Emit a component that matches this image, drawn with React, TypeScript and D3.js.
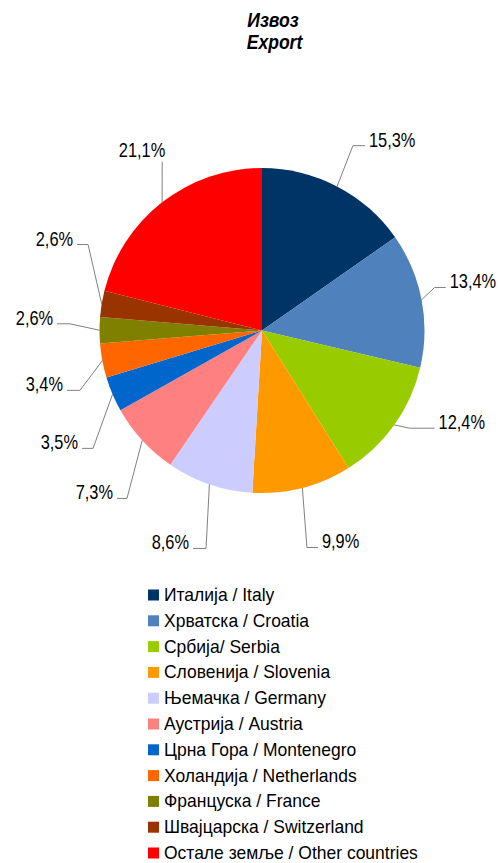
import React from "react";
import * as d3 from "d3";

const categories = [
  "Италија / Italy",
  "Хрватска / Croatia",
  "Србија/ Serbia",
  "Словенија / Slovenia",
  "Њемачка / Germany",
  "Аустрија / Austria",
  "Црна Гора / Montenegro",
  "Холандија / Netherlands",
  "Француска / France",
  "Швајцарска / Switzerland",
  "Остале земље / Other countries",
];
const values = [15.3, 13.4, 12.4, 9.9, 8.6, 7.3, 3.5, 3.4, 2.6, 2.6, 21.1];
const valueLabels = ["15,3%", "13,4%", "12,4%", "9,9%", "8,6%", "7,3%", "3,5%", "3,4%", "2,6%", "2,6%", "21,1%"];
const colors = [
  "#003366", "#4F81BD", "#99CC00", "#FF9900", "#CCCCFF", "#FF8080",
  "#0066CC", "#FF6600", "#808000", "#993300", "#FF0000",
];
// label layout: elbow position in polar coords (degrees clockwise from top, radius px)
const labelAngles = [26.2, 76, 123.5, 168.3, 194.4, 218.8, 235.1, 251.8, 272, 296.3, 329.4];
const labelRadii = [206, 178, 177, 221.6, 225, 215.5, 206, 191.6, 192, 194, 196];
const labelHoriz = [12, 11, 25, 11, 13, 10, 11, 13, 13, 11, 0];

const W = 501;
const H = 863;
const cx = 262;
const cy = 330.5;
const R = 162.5;
const FONT = "'Liberation Sans', Arial, sans-serif";

function T(props: {
  x: number;
  y: number;
  sx: number;
  size: number;
  anchor?: string;
  bold?: boolean;
  italic?: boolean;
  children: React.ReactNode;
}) {
  return (
    <text
      transform={`translate(${props.x},${props.y}) scale(${props.sx},1)`}
      textAnchor={props.anchor || "start"}
      fontFamily={FONT}
      fontSize={props.size}
      fontWeight={props.bold ? "bold" : "normal"}
      fontStyle={props.italic ? "italic" : "normal"}
      fill="#000"
    >
      {props.children}
    </text>
  );
}

export default function App() {
  const pie = d3.pie<number>().sort(null).value((d) => d);
  const arcs = pie(values);
  const arc = d3.arc<d3.PieArcDatum<number>>().innerRadius(0).outerRadius(R);
  const polar = (a: number, r: number): [number, number] => [
    cx + r * Math.sin(a),
    cy - r * Math.cos(a),
  ];
  const legendY = d3.scaleLinear().domain([0, categories.length - 1]).range([601, 859]);

  return (
    <div style={{ position: "fixed", left: 0, top: 0 }}>
      <svg width={W} height={H} style={{ display: "block", background: "#fff" }}>
        <T x={273} y={27} sx={0.9} size={19.5} anchor="middle" bold italic>
          Извоз
        </T>
        <T x={274.5} y={49} sx={0.9} size={19.5} anchor="middle" bold italic>
          Export
        </T>
        <g transform={`translate(${cx},${cy})`}>
          {arcs.map((a, i) => (
            <path key={i} d={arc(a) || ""} fill={colors[i]} />
          ))}
        </g>
        {arcs.map((a, i) => {
          const mid = (a.startAngle + a.endAngle) / 2;
          const [sx, sy] = polar(mid, R);
          const [ex, ey] = polar((labelAngles[i] * Math.PI) / 180, labelRadii[i]);
          const right = ex > cx;
          const h = labelHoriz[i];
          const hx = right ? ex + h : ex - h;
          if (h === 0) {
            return (
              <g key={i}>
                <polyline points={`${sx},${sy} ${ex},${ey}`} fill="none" stroke="#808080" strokeWidth={1} />
                <T x={ex + 3} y={ey - 5} sx={0.82} size={20} anchor="end">
                  {valueLabels[i]}
                </T>
              </g>
            );
          }
          return (
            <g key={i}>
              <polyline points={`${sx},${sy} ${ex},${ey} ${hx},${ey}`} fill="none" stroke="#808080" strokeWidth={1} />
              <T x={right ? hx + 4 : hx - 4} y={ey + 1} sx={0.82} size={20} anchor={right ? "start" : "end"}>
                {valueLabels[i]}
              </T>
            </g>
          );
        })}
        {categories.map((c, i) => (
          <g key={c}>
            <rect x={148} y={legendY(i) - 11.5} width={11} height={11} fill={colors[i]} />
            <T x={164} y={legendY(i)} sx={0.94} size={18.6}>
              {c}
            </T>
          </g>
        ))}
      </svg>
    </div>
  );
}
